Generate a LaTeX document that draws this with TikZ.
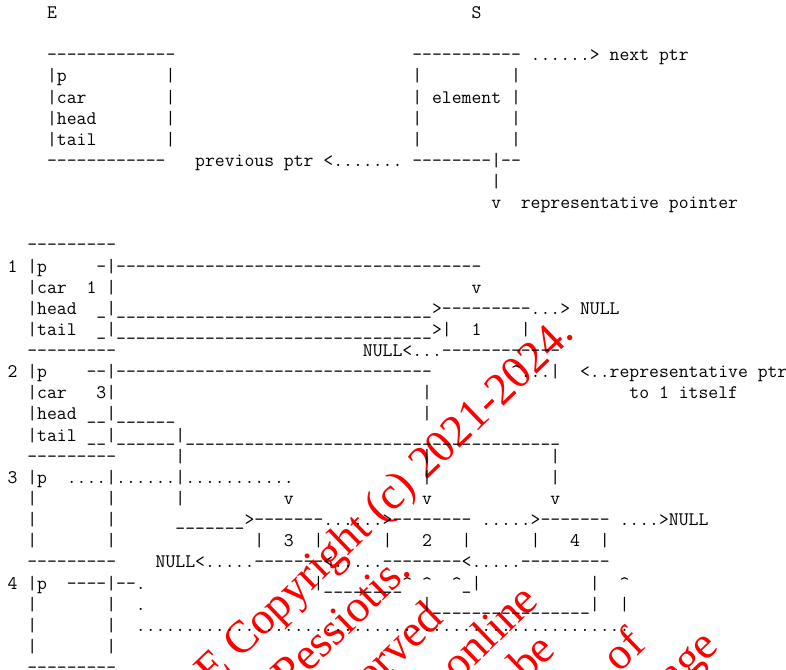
\documentclass[tikz,border=0pt]{standalone}
\usepackage{fontspec}
\newfontfamily\wmfont{Liberation Serif}
\frenchspacing
\newcommand\rep[2]{\ifnum#1>0 #2{}\expandafter\rep\expandafter{\the\numexpr#1-1\relax}{#2}\fi}
\newcommand\Dn[1]{\rep{#1}{-}}
\newcommand\Un[1]{\rep{#1}{\textunderscore}}
\newcommand\Pn[1]{\rep{#1}{.}}
\newcommand\Sn[1]{\rep{#1}{~}}
\newcommand\C{\textasciicircum}
\newlength\cwd
\begin{document}
\settowidth\cwd{\fontsize{18.8}{20}\selectfont\ttfamily M}
\pgfmathsetmacro\tts{18.8*9.87/\cwd}
\begin{tikzpicture}[x=1pt,y=-1pt,
  row/.style={anchor=base west,inner sep=0pt,outer sep=0pt,font=\fontsize{\tts}{\tts}\selectfont\ttfamily},
  wm/.style={anchor=base east,inner sep=0pt,outer sep=0pt,text=red,rotate=44,font=\fontsize{45.5}{50}\selectfont\wmfont}]
\useasboundingbox (0,0) rectangle (786,669);
\clip (0,0) rectangle (786,669);
% watermark
\node[wm] (w1) at (576,336) {E Copyright (c) 2021-2024.};
\node[wm] (w2) at (412.7,572.7) {Pessiotis.};
\node[wm] (w3) at (445,621) {reserved};
\node[wm] (w4) at (540,603) {online};
\node[wm] (w5) at (557,652) {be};
\node[wm] (w6) at (647,647) {of};
\node[wm] (w7) at (720,648) {page};
% ascii rows
\node[row] (r0) at (7.63,{18.5+21.13*0}) {\Sn{4}E\Sn{42}S};
\node[row] (r2) at (7.63,{18.5+21.13*2}) {\Sn{4}\Dn{13}\Sn{24}\Dn{11}~\Pn{6}>~next~ptr};
\node[row] (r3) at (7.63,{18.5+21.13*3}) {\Sn{4}|p\Sn{10}|\Sn{24}|\Sn{9}|};
\node[row] (r4) at (7.63,{18.5+21.13*4}) {\Sn{4}|car\Sn{8}|\Sn{24}|~element~|};
\node[row] (r5) at (7.63,{18.5+21.13*5}) {\Sn{4}|head\Sn{7}|\Sn{24}|\Sn{9}|};
\node[row] (r6) at (7.63,{18.5+21.13*6}) {\Sn{4}|tail\Sn{7}|\Sn{24}|\Sn{9}|};
\node[row] (r7) at (7.63,{18.5+21.13*7}) {\Sn{4}\Dn{12}\Sn{3}previous~ptr~<\Pn{7}~\Dn{8}|\Dn{2}};
\node[row] (r8) at (7.63,{18.5+21.13*8}) {\Sn{49}|};
\node[row] (r9) at (7.63,{18.5+21.13*9}) {\Sn{49}v\Sn{2}representative~pointer};
\node[row] (r11) at (7.63,{18.5+21.13*11}) {\Sn{2}\Dn{9}};
\node[row] (r12) at (7.63,{18.5+21.13*12}) {1~|p\Sn{5}-|\Dn{37}};
\node[row] (r13) at (7.63,{18.5+21.13*13}) {\Sn{2}|car\Sn{2}1~|\Sn{36}v};
\node[row] (r14) at (7.63,{18.5+21.13*14}) {\Sn{2}|head\Sn{2}\Un{1}|\Un{32}>\Dn{9}\Pn{3}>~NULL};
\node[row] (r15) at (7.63,{18.5+21.13*15}) {\Sn{2}|tail\Sn{2}\Un{1}|\Un{32}>|\Sn{2}1\Sn{4}|};
\node[row] (r16) at (7.63,{18.5+21.13*16}) {\Sn{2}\Dn{9}\Sn{25}NULL<\Pn{3}\Dn{12}};
\node[row] (r17) at (7.63,{18.5+21.13*17}) {2~|p\Sn{4}\Dn{2}|\Dn{32}\Sn{8}\C\Pn{3}|\Sn{2}<\Pn{2}representative~ptr};
\node[row] (r18) at (7.63,{18.5+21.13*18}) {\Sn{2}|car\Sn{3}3|\Sn{31}|\Sn{20}to~1~itself};
\node[row] (r19) at (7.63,{18.5+21.13*19}) {\Sn{2}|head~\Un{2}|\Un{6}\Sn{25}|};
\node[row] (r20) at (7.63,{18.5+21.13*20}) {\Sn{2}|tail~\Un{2}|\Un{6}|\Un{38}};
\node[row] (r21) at (7.63,{18.5+21.13*21}) {\Sn{2}\Dn{9}\Sn{6}|\Sn{24}|\Sn{12}|};
\node[row] (r22) at (7.63,{18.5+21.13*22}) {3~|p\Sn{2}\Pn{4}|\Pn{6}|\Pn{11}\Sn{13}|\Sn{12}|};
\node[row] (r23) at (7.63,{18.5+21.13*23}) {\Sn{2}|\Sn{7}|\Sn{6}|\Sn{10}v\Sn{13}v\Sn{12}v};
\node[row] (r24) at (7.63,{18.5+21.13*24}) {\Sn{2}|\Sn{7}|\Sn{6}\Un{7}>\Dn{7}\Pn{6}>\Dn{8}~\Pn{5}>\Dn{7}~\Pn{4}>NULL};
\node[row] (r25) at (7.63,{18.5+21.13*25}) {\Sn{2}|\Sn{7}|\Sn{14}|\Sn{2}3\Sn{2}|\Sn{6}|\Sn{3}2\Sn{3}|\Sn{6}|\Sn{3}4\Sn{2}|};
\node[row] (r26) at (7.63,{18.5+21.13*26}) {\Sn{2}\Dn{9}\Sn{4}NULL<\Pn{5}\Dn{7}<\Pn{5}\Dn{8}<\Pn{5}\Dn{9}};
\node[row] (r27) at (7.63,{18.5+21.13*27}) {4~|p\Sn{2}\Dn{4}|\Dn{2}.\Sn{17}|\Un{8}\C~\C\Sn{2}\C\Un{1}|\Sn{11}|\Sn{2}\C};
\node[row] (r28) at (7.63,{18.5+21.13*28}) {\Sn{2}|\Sn{7}|\Sn{2}.\Sn{28}|\Un{16}|\Sn{2}|};
\node[row] (r29) at (7.63,{18.5+21.13*29}) {\Sn{2}|\Sn{7}|\Sn{2}\Pn{50}};
\node[row] (r30) at (7.63,{18.5+21.13*30}) {\Sn{2}|\Sn{7}|};
\node[row] (r31) at (7.63,{18.5+21.13*31}) {\Sn{2}\Dn{9}};
\end{tikzpicture}
\end{document}
